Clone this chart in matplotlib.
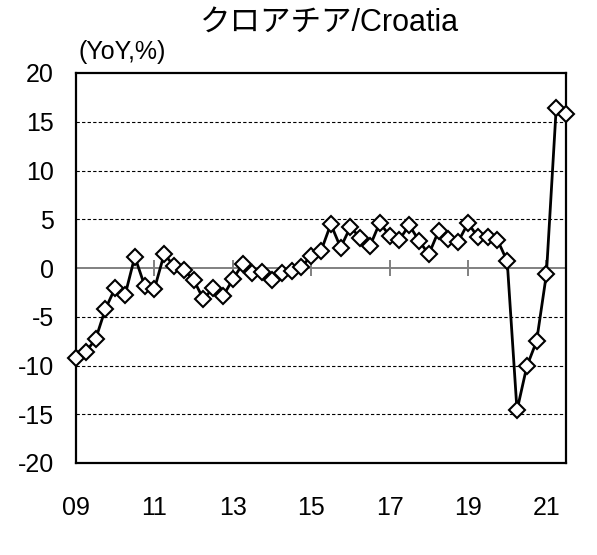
import numpy as np
import matplotlib
matplotlib.use('Agg')
import matplotlib.pyplot as plt

# Croatia real GDP, YoY %, quarterly 2009Q1 - 2021Q3
gdp_yoy = [-9.2, -8.6, -7.3, -4.2, -2.05, -2.8, 1.16, -1.8,
           -2.15, 1.44, 0.2, -0.2, -1.2, -3.2, -2.05, -2.9,
           -1.16, 0.4, -0.5, -0.4, -1.2, -0.5, -0.3, 0.15,
           1.2, 1.74, 4.5, 2.1, 4.2, 3.1, 2.26, 4.65,
           3.3, 2.9, 4.4, 2.8, 1.4, 3.8, 3.0, 2.7,
           4.6, 3.2, 3.2, 2.9, 0.7, -14.6, -10.1, -7.5,
           -0.65, 16.4, 15.8]
year_labels = ['09', '11', '13', '15', '17', '19', '21']
y_ticks = [-20, -15, -10, -5, 0, 5, 10, 15, 20]

latin = 'Liberation Sans'
plt.rcParams['font.family'] = [latin, 'Noto Sans CJK JP', 'DejaVu Sans']

x = np.arange(len(gdp_yoy))
label_pos = np.arange(len(year_labels)) * 8

fig = plt.figure(figsize=(5.97, 5.55), dpi=100)
ax = fig.add_axes([76 / 597, 92 / 555, 490 / 597, 390 / 555])

# dashed grid, solid grey zero line
for yv in y_ticks[1:-1]:
    if yv == 0:
        ax.axhline(0, color='#808080', lw=1.4, zorder=1)
    else:
        ax.axhline(yv, color='black', lw=0.8, ls=(0, (3, 2)), zorder=1)
ax.vlines(label_pos[1:], -0.8, 0.8, color='#808080', lw=1.4, zorder=1)

ax.plot(x, gdp_yoy, color='black', lw=2, marker='D', ms=8,
        mfc='white', mec='black', mew=1.5, clip_on=False, zorder=3)

ax.set_xlim(0, len(gdp_yoy) - 1)
ax.set_ylim(-20, 20)
ax.set_yticks(y_ticks)
ax.set_yticklabels([str(v) for v in y_ticks])
ax.set_xticks(label_pos)
ax.set_xticklabels(year_labels)
ax.tick_params(axis='both', length=0, labelsize=18)
ax.tick_params(axis='x', pad=24)
ax.tick_params(axis='y', pad=16)
for s in ax.spines.values():
    s.set_linewidth(1.6)

fig.text(330 / 597, 1 - 23 / 555, 'クロアチア/Croatia', ha='center', va='center',
         fontsize=22, family=[latin, 'Noto Sans CJK JP'])
fig.text(78 / 597, 1 - 52 / 555, '(YoY,%)', ha='left', va='center', fontsize=18)

fig.savefig('out.png', dpi=100)
